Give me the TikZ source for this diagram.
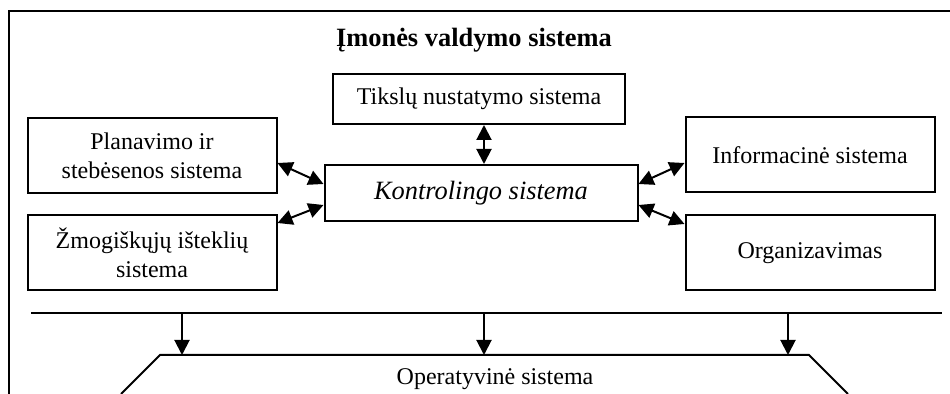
\documentclass[tikz,border=0pt]{standalone}
\usepackage{fontspec}
\setmainfont{Liberation Serif}
\usetikzlibrary{arrows.meta}

\begin{document}
\begin{tikzpicture}[x=0.5pt, y=-0.5pt, >={Triangle[length=7.5pt,width=7.5pt]}, line width=1pt,
  block/.style={draw, rectangle, align=center, inner sep=2pt, font=\fontsize{12}{14.5}\selectfont},
  side/.style={block, minimum width=124.5pt, minimum height=37.5pt},
  txt/.style={font=\fontsize{12}{14.5}\selectfont}]
  \useasboundingbox (0,0) rectangle (950,394);
  \draw (9,394) -- (9,11) -- (950,11);
  \node[anchor=base, font=\bfseries\fontsize{13.2}{15}\selectfont] (title) at (474,47) {Įmonės valdymo sistema};
  \node[block, minimum width=146pt, minimum height=25pt] (tiks) at (479,99) {Tikslų nustatymo sistema};
  \node[block, minimum width=156.5pt, minimum height=28pt, font=\itshape\fontsize{13.2}{15}\selectfont] (kont) at (481,193) {Kontrolingo sistema};
  \node[side] (plan) at (152,156) {Planavimo ir\\stebėsenos sistema};
  \node[side] (zmog) at (152,253) {Žmogiškųjų išteklių\\sistema};
  \node[side] (info) at (810,155) {Informacinė sistema};
  \node[side] (org) at (810,253) {Organizavimas};
  \draw[<->] ([xshift=2.5pt]tiks.south) -- ([xshift=1.5pt]kont.north);
  \draw[<->] ([yshift=-3.5pt]plan.east) -- ([yshift=4.5pt]kont.west);
  \draw[<->] ([yshift=15pt]zmog.east) -- ([yshift=-6pt]kont.west);
  \draw[<->] ([yshift=4.5pt]kont.east) -- ([yshift=-4pt]info.west);
  \draw[<->] ([yshift=-6pt]kont.east) -- ([yshift=14.5pt]org.west);
  \coordinate (busL) at (31,313);
  \coordinate (busR) at (942,313);
  \draw (busL) -- (busR);
  \coordinate (opL) at (160,355);
  \coordinate (opR) at (809,355);
  \draw (121,394) -- (opL) -- (opR) -- (848,394);
  \foreach \px in {182,484,788}
    \draw[->] (busL -| \px,0) -- (opL -| \px,0);
  \node[txt, anchor=base] (oper) at (495,385) {Operatyvinė sistema};
\end{tikzpicture}
\end{document}
